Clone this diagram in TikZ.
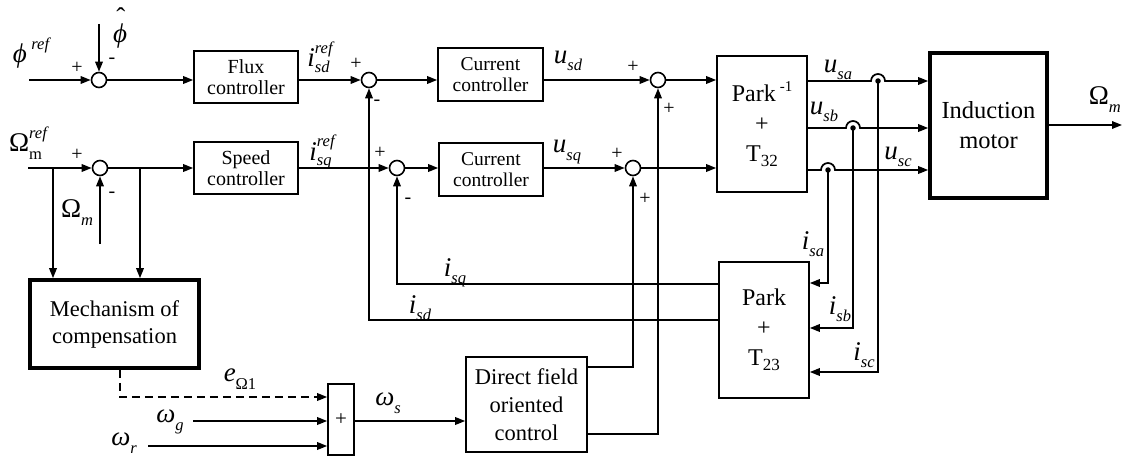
\documentclass[tikz,border=0pt]{standalone}
\usepackage{fontspec}
\setmainfont{Liberation Serif}
\usetikzlibrary{arrows.meta}

% label fonts
\newcommand\bigf{\fontsize{27}{27}\selectfont}
\newcommand\smf{\fontsize{16.5}{16.5}\selectfont}
% symbol with subscript only
\newcommand\sbs[2]{#1\raisebox{-0.28em}{\smf #2}}
% symbol with subscript and superscript stacked
\newcommand\sbsp[3]{#1\rlap{\raisebox{-0.2em}{\smf #2}}\raisebox{0.5em}{\smf #3}}

\begin{document}
\begin{tikzpicture}[x=1pt,y=-1pt,
  line width=1.7pt,
  >={Triangle[length=10pt,width=7.5pt]},
  blk/.style={draw,line width=1.6pt,inner sep=0pt,align=center},
  thickblk/.style={blk,line width=3.6pt},
  sumc/.style={draw,circle,minimum size=15pt,inner sep=0pt,line width=1.6pt},
  sgn/.style={inner sep=0pt,font=\fontsize{20}{20}\selectfont},
  lab/.style={inner sep=0pt,font=\bigf\itshape},
  ulab/.style={inner sep=0pt,font=\bigf\upshape},
  hopdot/.style={fill,circle,inner sep=0pt,minimum size=5.5pt}]

\useasboundingbox (0,0) rectangle (1123,457);

% ---- blocks ----
\node[blk,minimum width=104,minimum height=52,font=\fontsize{20}{21}\selectfont]
  (flux) at (246,77) {Flux\\controller};
\node[blk,minimum width=104,minimum height=52,font=\fontsize{20}{21}\selectfont]
  (speed) at (246,168) {Speed\\controller};
\node[blk,minimum width=105,minimum height=53,font=\fontsize{19.5}{21}\selectfont]
  (cc1) at (490.5,74.5) {Current\\controller};
\node[blk,minimum width=104,minimum height=53,font=\fontsize{19.5}{21}\selectfont]
  (cc2) at (491,169.5) {Current\\controller};
\node[blk,minimum width=90,minimum height=136,font=\fontsize{24}{30}\selectfont]
  (pinv) at (762,124) {Park\,\raisebox{0.45em}{\fontsize{15}{15}\selectfont -1}\\+\\T\raisebox{-0.2em}{\fontsize{17}{17}\selectfont 32}};
\node[thickblk,minimum width=117,minimum height=145,font=\fontsize{24.5}{30}\selectfont]
  (im) at (988.5,125.5) {Induction\\motor};
\node[blk,minimum width=90,minimum height=136,font=\fontsize{24}{30}\selectfont]
  (park) at (764,330) {Park\\+\\T\raisebox{-0.2em}{\fontsize{17}{17}\selectfont 23}};
\node[thickblk,minimum width=169,minimum height=88,font=\fontsize{22.5}{27}\selectfont]
  (mech) at (114.5,324) {Mechanism of\\compensation};
\node[blk,minimum width=26,minimum height=71,font=\fontsize{21}{21}\selectfont]
  (plus) at (341,419.5) {+};
\node[blk,minimum width=121,minimum height=95,font=\fontsize{22.5}{28}\selectfont]
  (dfoc) at (526.5,404.5) {Direct field\\oriented\\control};

% ---- summing junctions ----
\node[sumc] (s1) at (99,80) {};
\node[sumc] (s2) at (369,80) {};
\node[sumc] (s3) at (658,80) {};
\node[sumc] (s4) at (100,168) {};
\node[sumc] (s5) at (397,168) {};
\node[sumc] (s6) at (633,168) {};

% ---- free ends and bends ----
\coordinate (in1) at (29,80);
\coordinate (phat) at (99,24);
\coordinate (in2) at (28,168);
\coordinate (b1) at (53,168);
\coordinate (b2) at (140,168);
\coordinate (om) at (100,244);
\coordinate (ha) at (878,81);
\coordinate (hb) at (853,128);
\coordinate (hc) at (828,170);
\coordinate (ya) at (0,283);
\coordinate (yb) at (0,328);
\coordinate (yc) at (0,372);
\coordinate (yq) at (0,284);
\coordinate (yd) at (0,320);
\coordinate (y1) at (0,367);
\coordinate (y2) at (0,434);
\coordinate (dx) at (120,0);
\coordinate (ye) at (0,397);
\coordinate (wg) at (193,421);
\coordinate (wr) at (148,446);
\coordinate (oout) at (1122,125);

% ---- flux channel ----
\draw[->] (in1) -- (s1);
\draw[->] (phat) -- (s1);
\draw[->] (s1) -- (s1 -| flux.west);
\draw[->] (flux.east |- s2) -- (s2);
\draw[->] (s2) -- (s2 -| cc1.west);
\draw[->] (cc1.east |- s3) -- (s3);
\draw[->] (s3) -- (s3 -| pinv.west);

% ---- speed channel ----
\draw[->] (in2) -- (s4);
\draw[->] (b1) -- (b1 |- mech.north);
\draw[->] (b2) -- (b2 |- mech.north);
\draw[->] (om) -- (s4);
\draw[->] (s4) -- (s4 -| speed.west);
\draw[->] (speed.east |- s5) -- (s5);
\draw[->] (s5) -- (s5 -| cc2.west);
\draw[->] (cc2.east |- s6) -- (s6);
\draw[->] (s6) -- (s6 -| pinv.west);

% ---- stator voltages with line hops ----
\draw[->] (pinv.east |- ha) -- ([xshift=-7pt]ha) arc[start angle=180,end angle=360,radius=7] -- (ha -| im.west);
\draw[->] (pinv.east |- hb) -- ([xshift=-7pt]hb) arc[start angle=180,end angle=360,radius=7] -- (hb -| im.west);
\draw[->] (pinv.east |- hc) -- ([xshift=-7pt]hc) arc[start angle=180,end angle=360,radius=7] -- (hc -| im.west);
\node[hopdot] at (ha) {};
\node[hopdot] at (hb) {};
\node[hopdot] at (hc) {};

% ---- measured currents ----
\draw[->] (hc) |- (ya -| park.east);
\draw[->] (hb) |- (yb -| park.east);
\draw[->] (ha) |- (yc -| park.east);
\draw[->] (yq -| park.west) -| (s5.south);
\draw[->] (yd -| park.west) -| (s2.south);

% ---- motor speed ----
\draw[->] (im.east |- oout) -- (oout);

% ---- decoupling terms ----
\draw[->] (y1 -| dfoc.east) -| (s6.south);
\draw[->] (y2 -| dfoc.east) -| (s3.south);

% ---- slip frequency ----
\draw[->,dash pattern=on 8pt off 5pt] (dx |- mech.south) |- (ye -| plus.west);
\draw[->] (wg) -- (wg -| plus.west);
\draw[->] (wr) -- (wr -| plus.west);
\draw[->] (plus.east |- wg) -- (wg -| dfoc.west);

% ---- signs ----
\node[sgn] at (77,68) {+};
\node[sgn] at (112,61) {-};
\node[sgn] at (356,64) {+};
\node[sgn] at (377,103) {-};
\node[sgn] at (633,67) {+};
\node[sgn] at (669,109) {+};
\node[sgn] at (77,155) {+};
\node[sgn] at (112,195) {-};
\node[sgn] at (380,153) {+};
\node[sgn] at (408,201) {-};
\node[sgn] at (617,154) {+};
\node[sgn] at (645,199) {+};

% ---- signal labels ----
\node[lab] (lphi) at (31,53) {ϕ\,\raisebox{0.45em}{\smf ref}};
\node[lab] (lphihat) at (120,28) {\makebox[0pt][l]{\hspace{0.12em}\raisebox{0.62em}{\upshape ˆ}}ϕ};
\node[lab] (lisdr) at (320,57) {\sbsp{i}{sd}{ref}};
\node[lab] (lisqr) at (322,152) {\sbsp{i}{sq}{ref}};
\node[ulab] (lomr) at (28,143) {Ω\rlap{\raisebox{-0.28em}{\smf m}}\raisebox{0.5em}{\smf\itshape ref}};
\node[ulab] (lom) at (77,213) {Ω\raisebox{-0.3em}{\smf\itshape m}};
\node[ulab,anchor=west] (lomo) at (1088,100) {Ω\raisebox{-0.3em}{\smf\itshape m}};
\node[lab] (lusd) at (568,61) {\sbs{u}{sd}};
\node[lab] (lusq) at (567,152) {\sbs{u}{sq}};
\node[lab] (lusa) at (838,70) {\sbs{u}{sa}};
\node[lab] (lusb) at (824,112) {\sbs{u}{sb}};
\node[lab] (lusc) at (898,157) {\sbs{u}{sc}};
\node[lab] (lisa) at (813,244) {\sbs{i}{sa}};
\node[lab] (lisb) at (840,309) {\sbs{i}{sb}};
\node[lab] (lisc) at (864,355) {\sbs{i}{sc}};
\node[lab] (lisq) at (455,273) {\sbs{i}{sq}};
\node[lab] (lisd) at (420,308) {\sbs{i}{sd}};
\node[lab] (le) at (240,379) {\sbs{e}{\upshape Ω1}};
\node[lab] (lwg) at (170,422) {\sbs{ω}{g}};
\node[lab] (lwr) at (124,443) {\sbs{ω}{r}};
\node[lab] (lws) at (388,403) {\sbs{ω}{s}};

\end{tikzpicture}
\end{document}
